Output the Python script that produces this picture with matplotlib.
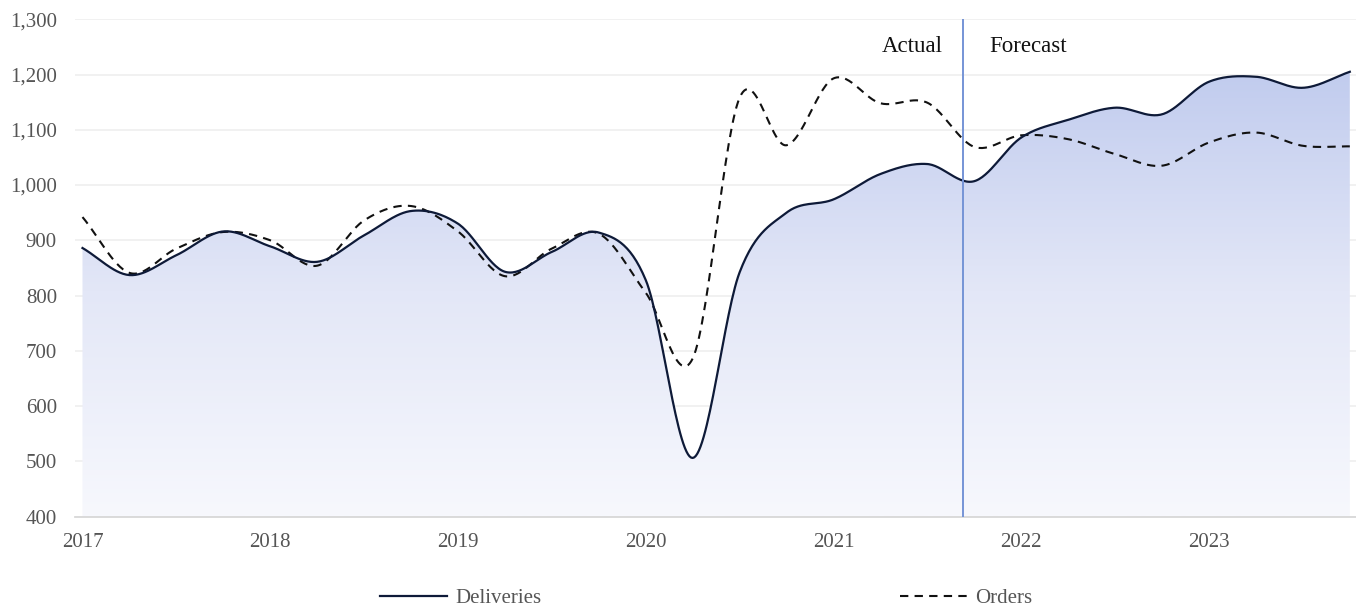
import matplotlib
matplotlib.use("Agg")
import matplotlib.pyplot as plt
from matplotlib.colors import LinearSegmentedColormap
from matplotlib.ticker import FuncFormatter
from matplotlib.lines import Line2D
import numpy as np

# quarterly points, 2017 Q1 .. 2023 Q4
years = [2017, 2018, 2019, 2020, 2021, 2022, 2023]
quarters = np.arange(28) / 4.0 + 2017

deliveries = [886, 837, 873, 916, 889, 861, 909, 953,
              930, 843, 879, 914, 828, 506, 842, 950,
              974, 1020, 1038, 1007, 1086, 1118, 1140, 1128,
              1187, 1196, 1176, 1205]
orders = [942, 841, 885, 915, 900, 854, 936, 962,
          916, 835, 885, 912, 805, 686, 1158, 1072,
          1193, 1148, 1149, 1069, 1090, 1083, 1056, 1035,
          1077, 1095, 1071, 1070]

split_x = 2021.69
y_ticks = list(range(400, 1301, 100))


def catmull_rom(x, y, n=30):
    x = np.asarray(x, float)
    y = np.asarray(y, float)
    px = np.concatenate([[2 * x[0] - x[1]], x, [2 * x[-1] - x[-2]]])
    py = np.concatenate([[2 * y[0] - y[1]], y, [2 * y[-1] - y[-2]]])
    xs, ys = [], []
    for i in range(1, len(px) - 2):
        t = np.linspace(0, 1, n, endpoint=False)
        for arr, out in ((px, xs), (py, ys)):
            p0, p1, p2, p3 = arr[i - 1], arr[i], arr[i + 1], arr[i + 2]
            out.append(0.5 * (2 * p1 + (-p0 + p2) * t
                              + (2 * p0 - 5 * p1 + 4 * p2 - p3) * t ** 2
                              + (-p0 + 3 * p1 - 3 * p2 + p3) * t ** 3))
    xs.append([x[-1]])
    ys.append([y[-1]])
    return np.concatenate(xs), np.concatenate(ys)


plt.rcParams['font.family'] = ['Liberation Serif', 'DejaVu Serif']

fig = plt.figure(figsize=(13.56, 6.06), dpi=100)
W, H = 1356, 606
ax = fig.add_axes([75 / W, (H - 516.5) / H, (W - 75) / W, (516.5 - 19.3) / H])

px_per_year = 187.75
ax.set_xlim(2017 - 7.5 / px_per_year, 2017 + (W - 82.5) / px_per_year)
ax.set_ylim(400, 1300)

dx, dy = catmull_rom(quarters, deliveries)
ox, oy = catmull_rom(quarters, orders)

# gradient fill under deliveries
cmap = LinearSegmentedColormap.from_list("fillgrad", ["#f7f8fd", "#e3e7f7", "#c0cbee"])
grad = np.linspace(0, 1, 256).reshape(-1, 1)
img = ax.imshow(grad, cmap=cmap, origin="lower", aspect="auto",
                extent=[quarters[0], quarters[-1], 400, 1215], zorder=1)
poly = ax.fill_between(dx, dy, 400, color="none", lw=0)
clip_path = poly.get_paths()[0]
img.set_clip_path(clip_path, transform=ax.transData)

ax.plot(ox, oy, color="#111111", lw=1.5, ls=(0, (4, 3)), zorder=3)
ax.plot(dx, dy, color="#0e1a38", lw=1.6, zorder=4)

ax.axvline(split_x, color="#7594d6", lw=1.4, zorder=5)
ax.text(split_x - 0.11, 1250, "Actual", ha="right", va="center", fontsize=16.5, color="#111111")
ax.text(split_x + 0.14, 1250, "Forecast", ha="left", va="center", fontsize=16.5, color="#111111")

ax.set_yticks(y_ticks)
ax.yaxis.set_major_formatter(FuncFormatter(lambda v, p: f"{int(v):,}"))
ax.set_xticks(years)
ax.set_xticklabels([str(y) for y in years])
ax.grid(axis="y", color="#efefef", lw=1.2, zorder=0)
ax.set_axisbelow(True)
ax.tick_params(length=0, labelsize=15, labelcolor="#555555")
ax.tick_params(axis="x", pad=12)
ax.tick_params(axis="y", pad=13)
for s in ["top", "right", "left"]:
    ax.spines[s].set_visible(False)
ax.spines["bottom"].set_color("#d8d8d8")
ax.spines["bottom"].set_linewidth(1.3)

h1 = Line2D([], [], color="#0e1a38", lw=1.6)
h2 = Line2D([], [], color="#111111", lw=1.5, ls=(0, (4, 3)))
leg1 = fig.legend([h1], ["Deliveries"], loc="center", bbox_to_anchor=(461 / W, 1 - 598 / H),
                  frameon=False, fontsize=15, handlelength=3.2, handletextpad=0.4)
leg2 = fig.legend([h2], ["Orders"], loc="center", bbox_to_anchor=(966 / W, 1 - 598 / H),
                  frameon=False, fontsize=15, handlelength=3.2, handletextpad=0.4)
for leg in (leg1, leg2):
    for t in leg.get_texts():
        t.set_color("#555555")

fig.savefig("out.png", dpi=100)
